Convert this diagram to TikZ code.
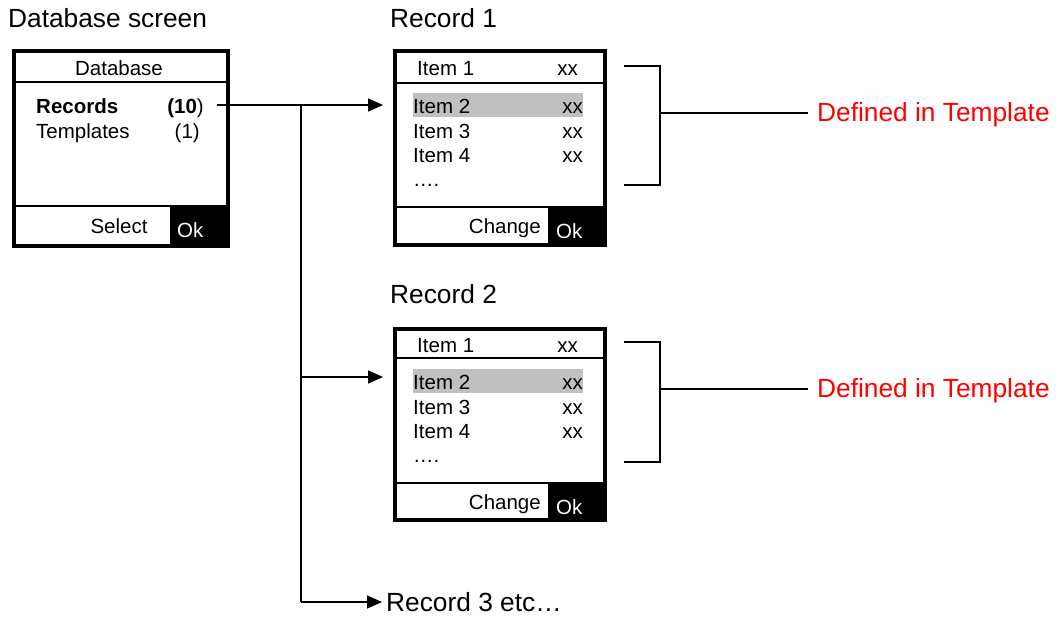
\documentclass[tikz,border=0pt]{standalone}
\usepackage{fontspec}
\setmainfont{Liberation Sans}
\usetikzlibrary{arrows.meta}
\tikzset{
  screen/.style={draw, line width=4pt, inner sep=0pt, outer sep=0pt},
  sepline/.style={line width=1.8pt},
  conn/.style={line width=1.3pt},
  arr/.style={conn, -{Triangle[length=15pt,width=13pt]}},
  brk/.style={line width=1.7pt},
  boxtxt/.style={inner sep=0pt, font=\fontsize{20.5}{24}\selectfont},
  lbl/.style={inner sep=0pt, font=\fontsize{26.3}{31}\selectfont},
  redlbl/.style={lbl, text={rgb,255:red,255;green,0;blue,0}},
  hl/.style={fill={rgb,255:red,192;green,192;blue,192}},
  okfill/.style={fill=black},
}
\begin{document}
\begin{tikzpicture}[x=1pt,y=-1pt]
\useasboundingbox (0,0) rectangle (1059,616);

% ---------- Database screen ----------
\node[lbl, anchor=base west] (dbtitle) at (8,27) {Database screen};
\fill[okfill] (170,206) rectangle (228,246);
\node[screen, minimum width=214pt, minimum height=195pt] (db) at (121,148.5) {};
\draw[sepline] (db.west |- 0,82) -- (db.east |- 0,82);
\draw[sepline] (db.west |- 0,206) -- (db.east |- 0,206);
\node[boxtxt, anchor=base] (dbhead) at (119,75) {Database};
\node[boxtxt, anchor=base west] (dbrec) at (36,113) {\textbf{Records}};
\node[boxtxt, anchor=base east] (dbrecn) at (204,113) {\textbf{(10})};
\node[boxtxt, anchor=base west] (dbtpl) at (36,138) {Templates};
\node[boxtxt, anchor=base east] (dbtpln) at (200,138) {(1)};
\node[boxtxt, anchor=base] (dbsel) at (119,233) {Select};
\node[boxtxt, anchor=base west, text=white] (dbok) at (177,237) {Ok};

% ---------- Record 1 ----------
\node[lbl, anchor=base west] (r1title) at (390,27) {Record 1};
\fill[hl] (413,93) rectangle (583,117);
\fill[okfill] (548,207) rectangle (605,245);
\node[screen, minimum width=210pt, minimum height=194pt] (rec1) at (500,148) {};
\draw[sepline] (rec1.west |- 0,83) -- (rec1.east |- 0,83);
\draw[sepline] (rec1.west |- 0,207) -- (rec1.east |- 0,207);
\node[boxtxt, anchor=base west] (r1i1) at (417,75) {Item 1};
\node[boxtxt, anchor=base east] (r1v1) at (578,75) {xx};
\node[boxtxt, anchor=base west] (r1i2) at (413,113) {Item 2};
\node[boxtxt, anchor=base east] (r1v2) at (583,113) {xx};
\node[boxtxt, anchor=base west] (r1i3) at (413,138) {Item 3};
\node[boxtxt, anchor=base east] (r1v3) at (583,138) {xx};
\node[boxtxt, anchor=base west] (r1i4) at (413,162) {Item 4};
\node[boxtxt, anchor=base east] (r1v4) at (583,162) {xx};
\node[boxtxt, anchor=base west] (r1dots) at (413,186) {….};
\node[boxtxt, anchor=base east] (r1chg) at (541,233) {Change};
\node[boxtxt, anchor=base west, text=white] (r1ok) at (556,238) {Ok};

% ---------- Record 2 ----------
\node[lbl, anchor=base west] (r2title) at (390,303) {Record 2};
\fill[hl] (413,369) rectangle (583,393);
\fill[okfill] (548,483) rectangle (605,520);
\node[screen, minimum width=210pt, minimum height=191pt] (rec2) at (500,424.5) {};
\draw[sepline] (rec2.west |- 0,358) -- (rec2.east |- 0,358);
\draw[sepline] (rec2.west |- 0,483) -- (rec2.east |- 0,483);
\node[boxtxt, anchor=base west] (r2i1) at (417,352) {Item 1};
\node[boxtxt, anchor=base east] (r2v1) at (578,352) {xx};
\node[boxtxt, anchor=base west] (r2i2) at (413,389) {Item 2};
\node[boxtxt, anchor=base east] (r2v2) at (583,389) {xx};
\node[boxtxt, anchor=base west] (r2i3) at (413,414) {Item 3};
\node[boxtxt, anchor=base east] (r2v3) at (583,414) {xx};
\node[boxtxt, anchor=base west] (r2i4) at (413,438) {Item 4};
\node[boxtxt, anchor=base east] (r2v4) at (583,438) {xx};
\node[boxtxt, anchor=base west] (r2dots) at (413,462) {….};
\node[boxtxt, anchor=base east] (r2chg) at (541,509) {Change};
\node[boxtxt, anchor=base west, text=white] (r2ok) at (556,514) {Ok};

% ---------- Record 3 ----------
\node[lbl, anchor=base west] (rec3) at (386,611) {Record 3 etc…};

% ---------- Connectors ----------
\coordinate (src) at (217,105);
\coordinate (split) at (301,105);
\coordinate (in1) at (383,105);
\coordinate (in2) at (383,377);
\coordinate (in3) at (382,602);
\coordinate (bot) at (301,602);
\draw[arr] (src) -- (in1);
\draw[conn] (split) -- (bot);
\draw[arr] (split |- in2) -- (in2);
\draw[arr] (bot) -- (in3);

% ---------- Brackets ----------
\node[redlbl, anchor=base west] (def1) at (817,121) {Defined in Template};
\node[redlbl, anchor=base west] (def2) at (817,397) {Defined in Template};
\coordinate (b1t) at (624,66);
\coordinate (b1b) at (624,185);
\coordinate (b1m) at (660,113);
\draw[brk] (b1t) -| (b1m |- b1b) -- (b1b);
\draw[brk] (b1m) -- ([xshift=-9pt]def1.west |- b1m);
\coordinate (b2t) at (624,342);
\coordinate (b2b) at (624,462);
\coordinate (b2m) at (660,389);
\draw[brk] (b2t) -| (b2m |- b2b) -- (b2b);
\draw[brk] (b2m) -- ([xshift=-9pt]def2.west |- b2m);
\end{tikzpicture}
\end{document}
